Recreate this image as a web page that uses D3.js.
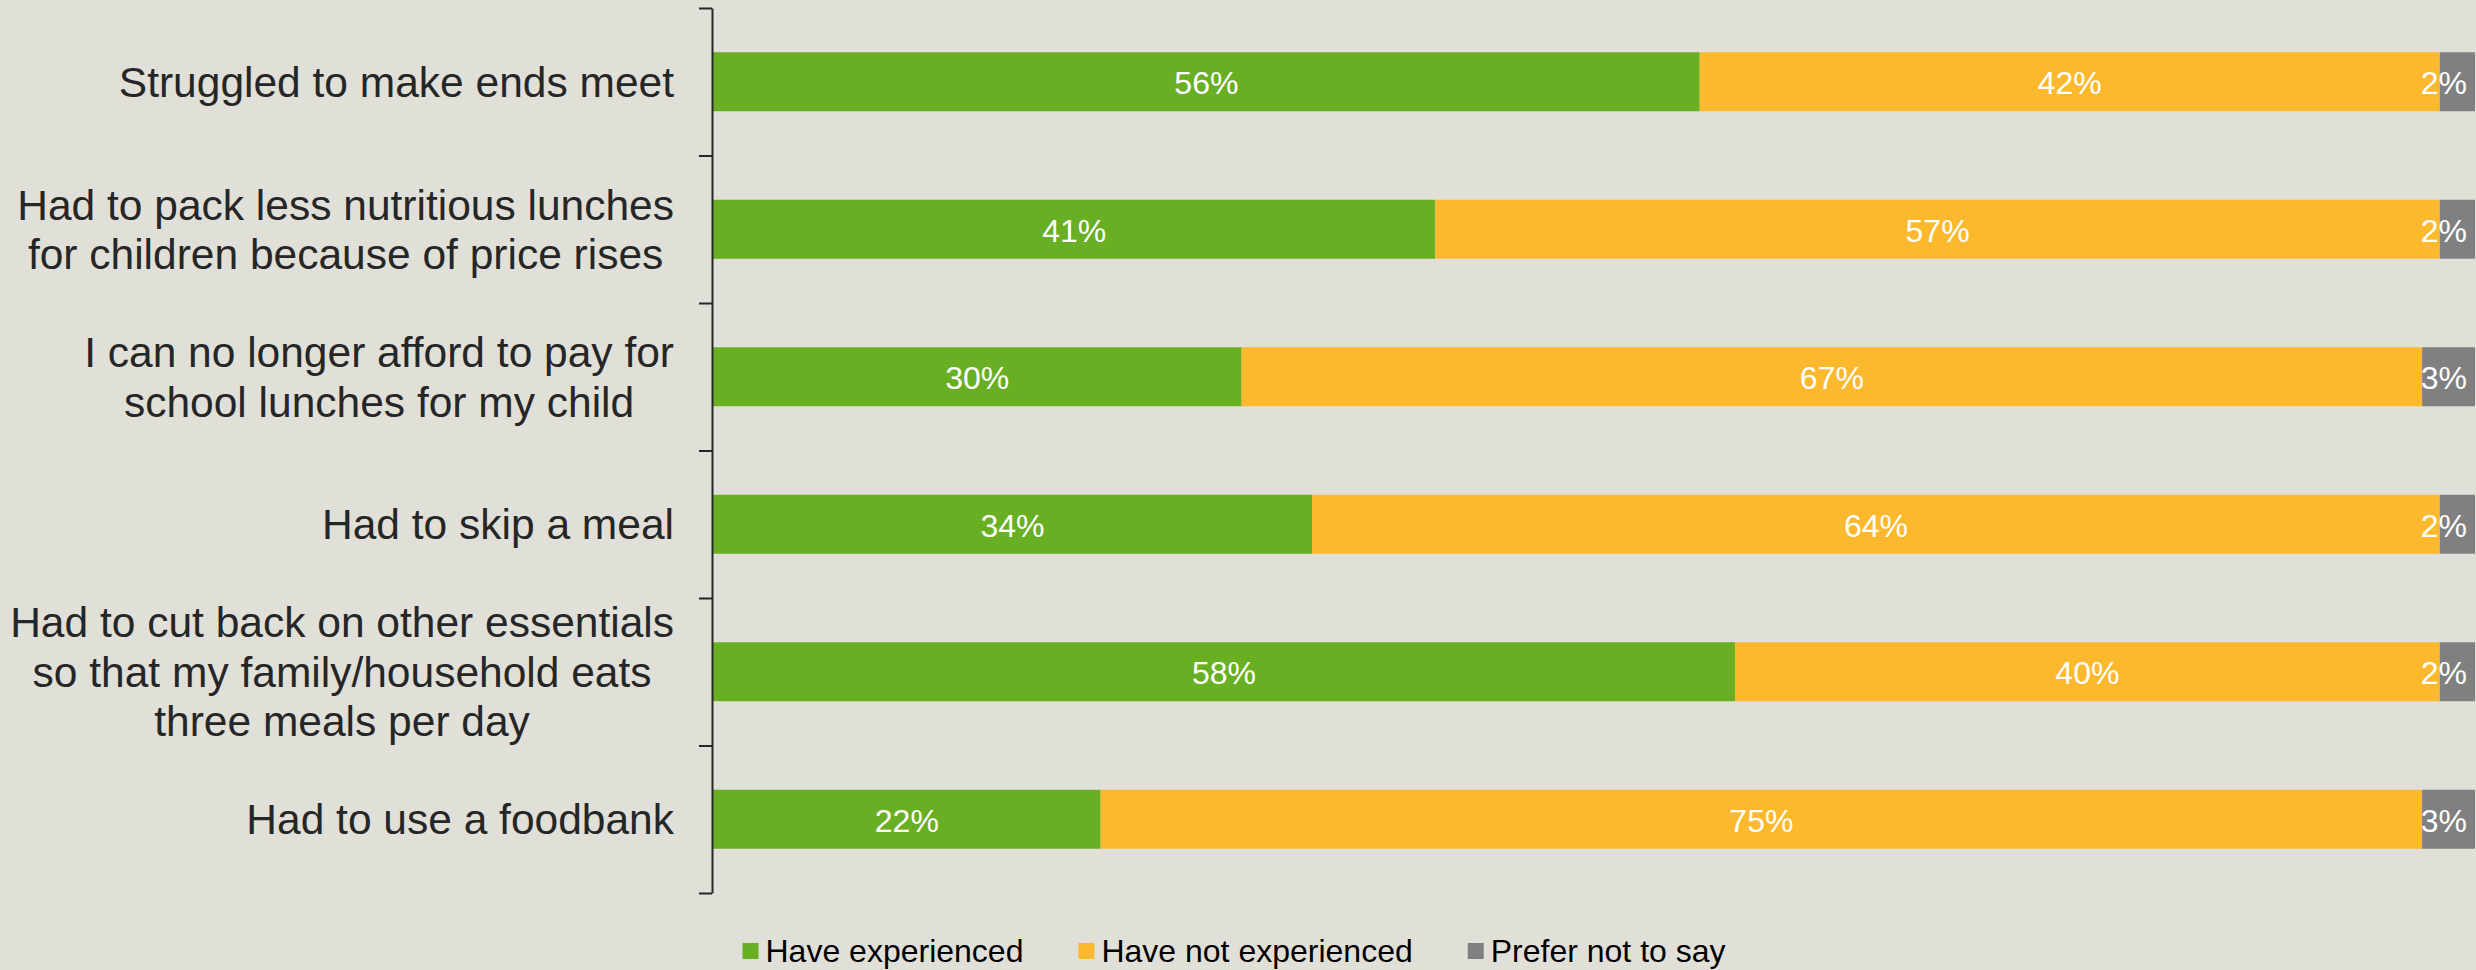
<!DOCTYPE html>
<html>
<head>
<meta charset="utf-8">
<script src="https://cdn.jsdelivr.net/npm/d3@7"></script>
<style>
  html, body { margin: 0; padding: 0; background: #e0e0d9; }
  svg { display: block; font-family: "Liberation Sans", Arial, sans-serif; }
</style>
</head>
<body>
<svg id="chart" width="2476" height="970"></svg>
<script>
// chart values
const CATEGORIES = [
  ["Struggled to make ends meet"],
  ["Had to pack less nutritious lunches", "for children because of price rises"],
  ["I can no longer afford to pay for", "school lunches for my child"],
  ["Had to skip a meal"],
  ["Had to cut back on other essentials", "so that my family/household eats", "three meals per day"],
  ["Had to use a foodbank"]
];
const SERIES = ["Have experienced", "Have not experienced", "Prefer not to say"];
const EXPERIENCED = [56, 41, 30, 34, 58, 22];
const NOT_EXPERIENCED = [42, 57, 67, 64, 40, 75];
const PREFER_NOT = [2, 2, 3, 2, 2, 3];
const COLORS = ["#69af23", "#fdb92e", "#808080"];

const W = 2476;
const AXIS_X = 712;
const LABEL_RIGHT = 674;
const TOP = 8, BOTTOM = 893;
const LINE_H = 49.5;

const svg = d3.select("#chart");

// rows: one object per category, stacked by d3.stack
const keys = ["exp", "notexp", "pref"];
const rows = CATEGORIES.map((c, i) => ({
  key: i, lines: c,
  exp: EXPERIENCED[i], notexp: NOT_EXPERIENCED[i], pref: PREFER_NOT[i]
}));
const stacked = d3.stack().keys(keys)(rows);

const x = d3.scaleLinear().domain([0, 100]).range([AXIS_X + 1, W - 1]);
const y = d3.scaleBand().domain(rows.map(r => r.key)).range([TOP, BOTTOM])
  .paddingInner(0.6).paddingOuter(0.3);

// bars
const layers = svg.selectAll("g.layer").data(stacked).enter()
  .append("g").attr("class", "layer").attr("fill", (d, i) => COLORS[i]);
layers.selectAll("rect").data(d => d).enter().append("rect")
  .attr("x", d => x(d[0]))
  .attr("y", d => y(d.data.key))
  .attr("width", d => x(d[1]) - x(d[0]))
  .attr("height", y.bandwidth());

// value labels, kept inside the right edge like the original
layers.each(function (layer) {
  d3.select(this).selectAll("text").data(layer).enter().append("text")
    .attr("fill", "#ffffff")
    .attr("font-size", 32)
    .attr("text-anchor", "middle")
    .attr("y", d => y(d.data.key) + y.bandwidth() / 2 + 12.5)
    .text(d => (d[1] - d[0]) + "%")
    .attr("x", function (d) {
      const c = (x(d[0]) + x(d[1])) / 2;
      const w = this.getComputedTextLength();
      return Math.min(c, W - 9 - w / 2);
    });
});

// axis: bracket with ticks on band boundaries
const yTicks = d3.scaleLinear().domain([0, CATEGORIES.length]).range([TOP, BOTTOM]);
const axis = svg.append("g").attr("transform", "translate(" + AXIS_X + ",0)")
  .call(d3.axisLeft(yTicks).tickValues(d3.range(0, CATEGORIES.length + 1))
    .tickSize(13).tickSizeOuter(0).tickFormat(""));
axis.selectAll("path, line").attr("stroke", "#262626").attr("stroke-width", 2);

// category labels: block right aligned, lines centred in block
const labels = svg.selectAll("g.cat").data(rows).enter().append("g").attr("class", "cat");
labels.each(function (r) {
  const g = d3.select(this);
  const cy = y(r.key) + y.bandwidth() / 2;
  const n = r.lines.length;
  const texts = g.selectAll("text").data(r.lines).enter().append("text")
    .attr("font-size", 42.5)
    .attr("fill", "#262626")
    .attr("text-anchor", "middle")
    .attr("y", (d, i) => cy + (i - (n - 1) / 2) * LINE_H + 15)
    .text(d => d);
  let maxW = 0;
  texts.each(function () { maxW = Math.max(maxW, this.getComputedTextLength()); });
  texts.attr("x", LABEL_RIGHT - maxW / 2);
});

// legend
const legend = svg.append("g");
let cursor = 0;
SERIES.forEach((s, i) => {
  const item = legend.append("g").attr("transform", "translate(" + cursor + ",0)");
  item.append("rect").attr("x", 0).attr("y", 943).attr("width", 16).attr("height", 16)
    .attr("fill", COLORS[i]);
  const t = item.append("text").attr("x", 23).attr("y", 962)
    .attr("font-size", 32).attr("fill", "#000000").text(s);
  cursor += 23 + t.node().getComputedTextLength() + 55;
});
cursor -= 55;
legend.attr("transform", "translate(" + (1234 - cursor / 2) + ",0)");
</script>
</body>
</html>
